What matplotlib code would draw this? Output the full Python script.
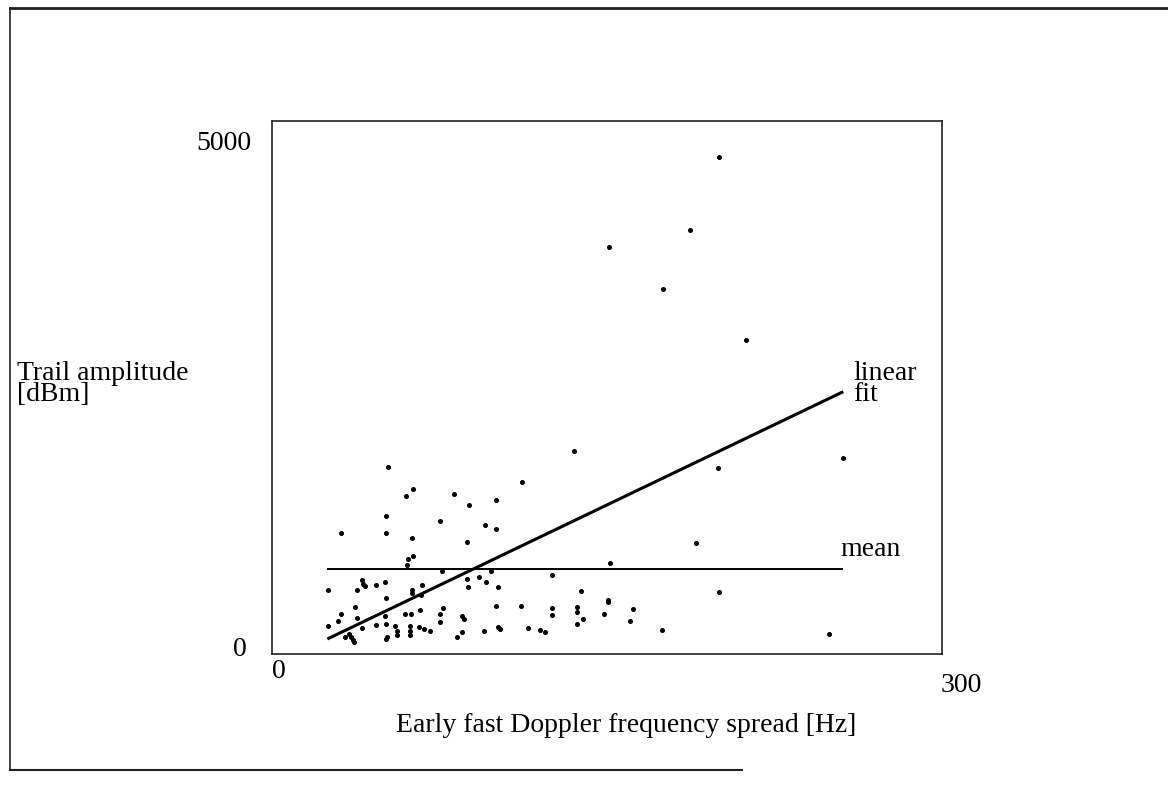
import matplotlib
matplotlib.use("Agg")
import matplotlib.pyplot as plt
from matplotlib.lines import Line2D

plt.rcParams['font.family'] = ['Liberation Serif', 'DejaVu Serif']

# Doppler frequency spread [Hz]
spread_hz = [200.0, 187.2, 150.8, 174.9, 212.1, 135.4, 112.1, 199.7, 255.7, 189.9,
             249.5, 200.3, 174.5, 151.3, 125.5, 138.4, 150.3, 150.3, 125.5, 125.5,
             136.7, 136.7, 161.8, 148.8, 139.1, 160.2, 136.7, 114.8, 120.0, 122.2,
             51.9, 63.3, 60.1, 81.5, 88.4, 100.5, 51.0, 75.4, 95.2, 100.4,
             31.1, 51.0, 62.5, 87.5, 63.3, 61.0, 60.6, 76.1, 87.3, 92.7,
             98.1, 95.8, 40.3, 40.9, 41.6, 46.6, 50.4, 25.1, 38.2, 101.1,
             87.6, 67.0, 62.5, 62.9, 66.8, 51.0, 37.2, 76.7, 100.4, 111.7,
             66.1, 30.9, 29.4, 38.2, 50.8, 59.5, 62.2, 75.2, 75.2, 85.1,
             86.0, 25.1, 40.2, 46.7, 50.9, 54.9, 62.0, 62.0, 66.0, 68.1,
             70.7, 56.0, 56.0, 32.5, 34.7, 35.4, 36.1, 36.9, 51.0, 51.7,
             62.0, 82.7, 85.1, 94.9, 101.0, 102.1]
# Trail amplitude
amplitude = [4660, 3978, 3821, 3427, 2946, 1907, 1609, 1742, 1839, 1038,
             185, 582, 225, 851, 738, 588, 507, 485, 432, 363,
             444, 397, 425, 378, 331, 312, 284, 241, 222, 204,
             1757, 1548, 1482, 1501, 1401, 1445, 1295, 1245, 1210, 1173,
             1135, 1132, 1085, 1048, 919, 887, 835, 774, 708, 725,
             774, 673, 690, 661, 635, 650, 678, 600, 600, 626,
             626, 650, 598, 569, 552, 521, 443, 434, 450, 450,
             417, 378, 314, 341, 361, 375, 375, 373, 303, 358,
             333, 263, 247, 275, 280, 263, 260, 214, 253, 239,
             213, 216, 181, 162, 192, 162, 131, 113, 141, 164,
             174, 157, 206, 220, 249, 232]

fit_x = [24.8, 255.8]
fit_y = [141, 2461]
mean_x = [24.8, 255.8]
mean_y = [802, 802]

W, H = 1168, 789
fig = plt.figure(figsize=(W / 100, H / 100), dpi=100)

# outer frame
def fx(p): return p / W
def fy(p): return 1 - p / H
fig.add_artist(Line2D([fx(10), fx(10)], [fy(8), fy(770)], color='#222', lw=1.2))
fig.add_artist(Line2D([fx(10), fx(1168)], [fy(8), fy(8)], color='#222', lw=2.0))
fig.add_artist(Line2D([fx(10), fx(742)], [fy(770), fy(770)], color='#222', lw=1.5))

ax = fig.add_axes([fx(272), fy(654), (942 - 272) / W, (654 - 121) / H])
ax.set_xlim(0, 300)
ax.set_ylim(0, 5000)
ax.set_xticks([])
ax.set_yticks([])
for s in ax.spines.values():
    s.set_linewidth(1.2)
    s.set_color('#222')

ax.plot(spread_hz, amplitude, 'o', color='black', ms=2.6, mec='black')
ax.plot(fit_x, fit_y, color='black', lw=2.2, solid_capstyle='butt')
ax.plot(mean_x, mean_y, color='black', lw=1.4, solid_capstyle='butt')

fs = 20
fig.text(fx(251), fy(143), '5000', ha='right', va='center', fontsize=fs)
fig.text(fx(247), fy(650), '0', ha='right', va='center', fontsize=fs)
fig.text(fx(279), fy(672), '0', ha='center', va='center', fontsize=fs)
fig.text(fx(961), fy(685), '300', ha='center', va='center', fontsize=fs)
fig.text(fx(17), fy(384), 'Trail amplitude\n[dBm]', ha='left', va='center',
         fontsize=fs, linespacing=0.8)
fig.text(fx(626), fy(726), 'Early fast Doppler frequency spread [Hz]',
         ha='center', va='center', fontsize=fs)
fig.text(fx(853), fy(384), 'linear\nfit', ha='left', va='center',
         fontsize=fs, linespacing=0.8)
fig.text(fx(840), fy(550), 'mean', ha='left', va='center', fontsize=fs)

fig.savefig('out.png', dpi=100, facecolor='white')
